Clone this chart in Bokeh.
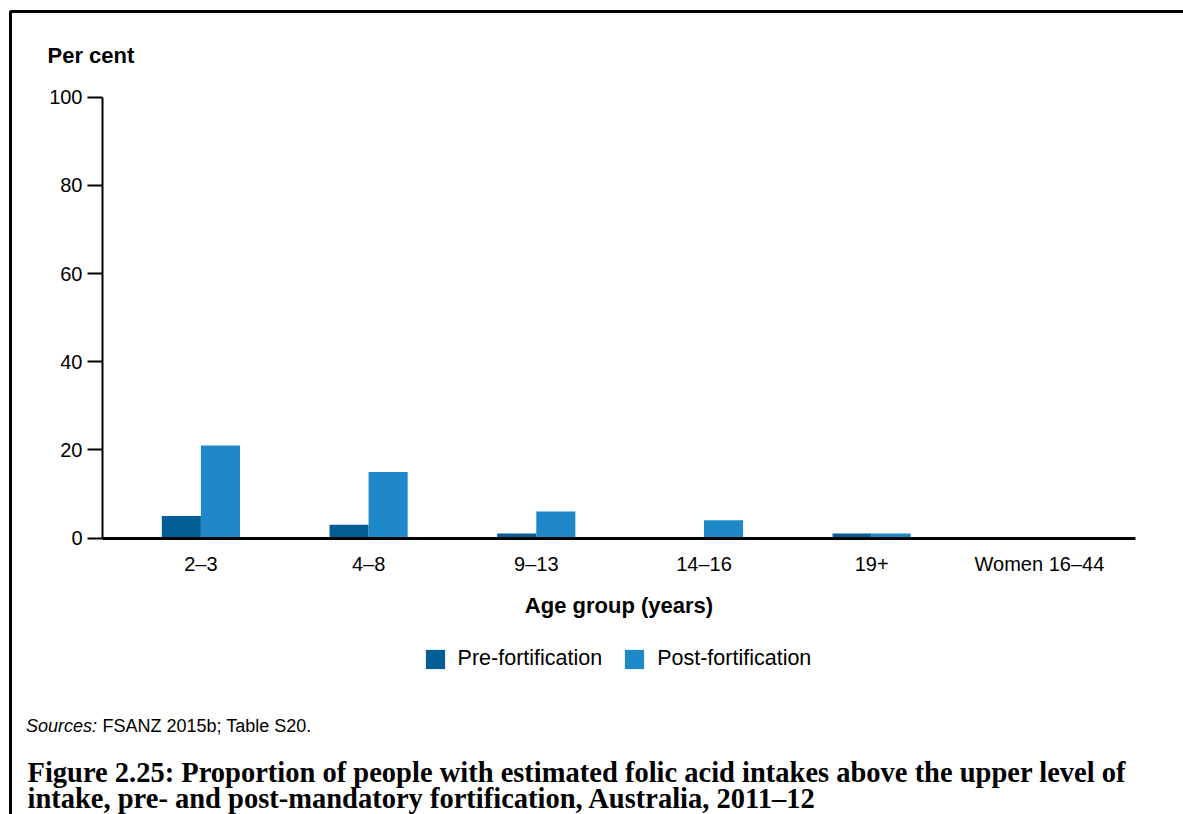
import numpy as np
from bokeh.plotting import figure
from bokeh.models import (Range1d, FixedTicker, Label, Legend, LegendItem,
                          BoxAnnotation, LinearAxis)
from bokeh.embed import file_html
from bokeh.resources import INLINE

# ---------------- data ----------------
categories = ["2–3", "4–8", "9–13", "14–16", "19+", "Women 16–44"]
pre_fortification = [5, 3, 1, 0, 1, 0]
post_fortification = [21, 15, 6, 4, 1, 0]
y_ticks = [0, 20, 40, 60, 80, 100]

# ---------------- layout (pixel geometry of the page) ----------------
W, H = 1183, 814
CAT0_PX, CAT_STEP_PX = 200.4, 167.7      # x pixel of first category, spacing
ZERO_PX, UNIT_PX = 537.5, 4.408          # y pixel of value 0, pixels per unit
LABEL_SHIFT = 8                          # compensation for label baseline


def dx(px):
    """page x pixel -> data x"""
    return (px - CAT0_PX) / CAT_STEP_PX


def dy(py):
    """page y pixel -> data y"""
    return (ZERO_PX - py) / UNIT_PX


def ly(py):
    """baseline page y pixel -> data y for a Label"""
    return dy(py - LABEL_SHIFT)


AXIS_LEFT_PX, AXIS_RIGHT_PX = 102, 1135

PRE_COLOR = "#035E96"
POST_COLOR = "#1E88C8"
SANS = "Liberation Sans"
SERIF = "Liberation Serif"

p = figure(width=W, height=H, x_range=Range1d(dx(0), dx(W)),
           y_range=Range1d(dy(H), dy(0)),
           output_backend="svg", toolbar_location=None,
           x_axis_location=None, y_axis_location=None,
           min_border=0, min_border_left=0, min_border_right=0,
           min_border_top=0, min_border_bottom=0)
p.outline_line_color = None
p.grid.grid_line_color = None
p.background_fill_color = "white"
p.border_fill_color = "white"

idx = np.arange(len(categories))
bw = 0.233
r_pre = p.vbar(x=idx - bw / 2, top=pre_fortification, width=bw,
               fill_color=PRE_COLOR, line_color=None)
r_post = p.vbar(x=idx + bw / 2, top=post_fortification, width=bw,
                fill_color=POST_COLOR, line_color=None)

# x axis
xa = LinearAxis(fixed_location=0, bounds=(dx(AXIS_LEFT_PX), dx(AXIS_RIGHT_PX)))
xa.ticker = FixedTicker(ticks=list(idx))
xa.major_label_overrides = {int(i): c for i, c in zip(idx, categories)}
xa.major_tick_out = 0
xa.major_tick_in = 0
xa.minor_tick_out = 0
xa.minor_tick_in = 0
xa.axis_line_width = 3
xa.axis_line_color = "black"
xa.major_label_text_font = SANS
xa.major_label_text_font_size = "20px"
xa.major_label_text_color = "black"
xa.major_label_standoff = 15
xa.axis_label = "Age group (years)"
xa.axis_label_text_font = SANS
xa.axis_label_text_font_size = "22px"
xa.axis_label_text_font_style = "bold"
xa.axis_label_text_color = "black"
xa.axis_label_standoff = 14
p.add_layout(xa, "below")

# y axis
ya = LinearAxis(fixed_location=dx(AXIS_LEFT_PX), bounds=(y_ticks[0], y_ticks[-1]))
ya.ticker = FixedTicker(ticks=y_ticks)
ya.major_tick_out = 15
ya.major_tick_in = 0
ya.minor_tick_out = 0
ya.minor_tick_in = 0
ya.major_tick_line_width = 2
ya.major_tick_line_color = "black"
ya.axis_line_width = 2
ya.axis_line_color = "black"
ya.major_label_text_font = SANS
ya.major_label_text_font_size = "20px"
ya.major_label_text_color = "black"
ya.major_label_standoff = 5
p.add_layout(ya, "left")

# outer box (left and top edges visible, rest runs off the page)
p.add_layout(BoxAnnotation(left=dx(10), right=dx(1300), top=dy(11), bottom=dy(950),
                           fill_alpha=0, line_color="black", line_alpha=1.0,
                           line_width=3, level="overlay"))

# texts
p.add_layout(Label(x=dx(47), y=ly(63), text="Per cent", text_font=SANS,
                   text_font_size="22px", text_font_style="bold",
                   text_color="black", text_baseline="alphabetic"))
p.add_layout(Label(x=dx(25.5), y=ly(733), text="Sources:", text_font=SANS,
                   text_font_size="18px", text_font_style="italic",
                   text_color="black", text_baseline="alphabetic"))
p.add_layout(Label(x=dx(102), y=ly(733), text="FSANZ 2015b; Table S20.",
                   text_font=SANS, text_font_size="18px",
                   text_color="black", text_baseline="alphabetic"))
p.add_layout(Label(x=dx(27), y=ly(780),
                   text="Figure 2.25: Proportion of people with estimated folic acid intakes above the upper level of",
                   text_font=SERIF, text_font_size="28.5px", text_font_style="bold",
                   text_color="black", text_baseline="alphabetic"))
p.add_layout(Label(x=dx(27), y=ly(806),
                   text="intake, pre- and post-mandatory fortification, Australia, 2011–12",
                   text_font=SERIF, text_font_size="28.5px", text_font_style="bold",
                   text_color="black", text_baseline="alphabetic"))

legend = Legend(items=[LegendItem(label="Pre-fortification", renderers=[r_pre]),
                       LegendItem(label="Post-fortification", renderers=[r_post])],
                orientation="horizontal", location=(422.6, 143),
                label_text_font=SANS, label_text_font_size="21.5px",
                label_text_color="black", label_height=18,
                glyph_width=24, glyph_height=24, label_standoff=11, spacing=20,
                padding=0, margin=0, border_line_color=None,
                background_fill_alpha=0)
p.add_layout(legend)

open("out.html", "w").write(file_html(p, INLINE))
